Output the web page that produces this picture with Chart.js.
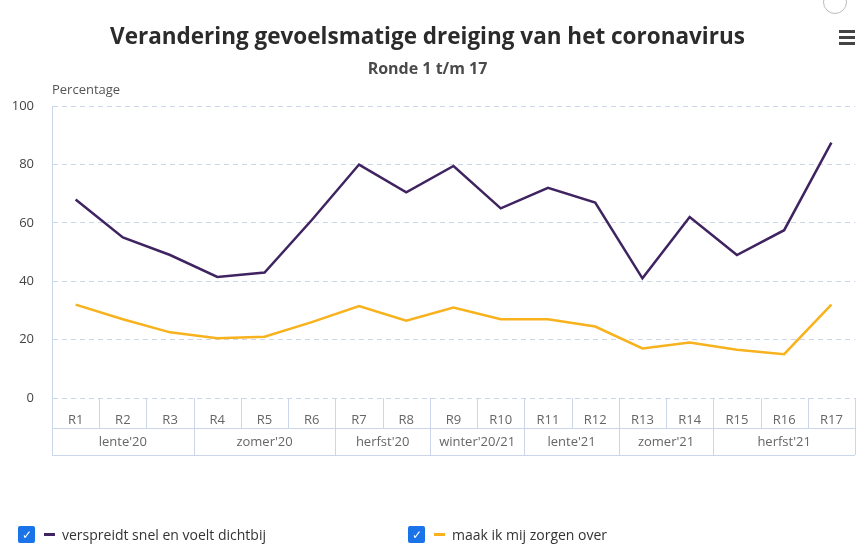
<!DOCTYPE html>
<html>
<head>
<meta charset="utf-8">
<title>Verandering gevoelsmatige dreiging van het coronavirus</title>
<script src="https://cdn.jsdelivr.net/npm/chart.js@4.4.1/dist/chart.umd.min.js"></script>
<style>
    body { margin: 0; background: #fff; font-family: "Open Sans", sans-serif; }
    #wrap { position: relative; width: 857px; height: 550px; overflow: hidden; }
    canvas { display: block; }
    .menu { position: absolute; left: 839px; top: 30px; width: 16px; }
    .menu span { display: block; height: 3px; background: #444; margin-bottom: 3px; }
    .knop { position: absolute; left: 823px; top: -10px; width: 22px; height: 22px; border: 1px solid #bbb; border-radius: 50%; }
    .legenda { position: absolute; top: 525px; font-size: 14px; color: #333; display: flex; align-items: center; }
    .legenda .vink { width: 17px; height: 17px; background: #1a73e8; border-radius: 2px; color: #fff; font-size: 12px; line-height: 17px; text-align: center; margin-right: 9px; }
    .legenda .streep { width: 11px; height: 3px; margin-right: 7px; }
</style>
</head>
<body>
<div id="wrap">
    <canvas id="grafiek" width="857" height="550"></canvas>
    <div class="knop"></div>
    <div class="menu"><span></span><span></span><span></span></div>
    <div class="legenda" style="left:18px"><span class="vink">&#10003;</span><span class="streep" style="background:#3f2461"></span>verspreidt snel en voelt dichtbij</div>
    <div class="legenda" style="left:408px"><span class="vink">&#10003;</span><span class="streep" style="background:#f7b21e"></span>maak ik mij zorgen over</div>
</div>
<script>
// rondes en seizoenen (gegroepeerde x-as)
const rondes = ['R1', 'R2', 'R3', 'R4', 'R5', 'R6', 'R7', 'R8', 'R9', 'R10', 'R11', 'R12', 'R13', 'R14', 'R15', 'R16', 'R17'];
const seizoenen = ["lente'20", "zomer'20", "herfst'20", "winter'20/21", "lente'21", "zomer'21", "herfst'21"];
const rondesPerSeizoen = [3, 3, 2, 2, 2, 2, 3];

// percentages per ronde
const dichtbij = [68, 55, 49, 41.5, 43, 61, 80, 70.5, 79.5, 65, 72, 67, 41, 62, 49, 57.5, 87.5];
const zorgen = [32, 27, 22.5, 20.5, 21, 26, 31.5, 26.5, 31, 27, 27, 24.5, 17, 19, 16.5, 15, 32];

const yTicks = [0, 20, 40, 60, 80, 100];

const lijnKleur = '#ccd6eb';
const tekstKleur = '#666';

// tekent de tabel onder de grafiek (rondes + seizoenen)
const tabelPlugin = {
    id: 'tabel',
    afterDraw(chart) {
        const ctx = chart.ctx;
        const x = chart.scales.x;
        const area = chart.chartArea;
        const rij1 = area.bottom + 30;
        const rij2 = area.bottom + 57;
        const breedte = (x.getPixelForValue(1) - x.getPixelForValue(0));
        const grens = i => x.getPixelForValue(0) - breedte / 2 + i * breedte;

        ctx.save();
        ctx.strokeStyle = lijnKleur;
        ctx.lineWidth = 1;
        ctx.beginPath();
        // verticale lijnen tussen rondes
        for (let i = 0; i <= rondes.length; i++) {
            const px = Math.round(grens(i)) + 0.5;
            ctx.moveTo(px, area.bottom);
            ctx.lineTo(px, rij1);
        }
        ctx.moveTo(area.left, rij1 + 0.5);
        ctx.lineTo(area.right, rij1 + 0.5);
        ctx.moveTo(area.left, rij2 + 0.5);
        ctx.lineTo(area.right, rij2 + 0.5);
        // seizoensgrenzen
        let n = 0;
        for (let s = 0; s <= seizoenen.length; s++) {
            const px = Math.round(grens(n)) + 0.5;
            ctx.moveTo(px, rij1);
            ctx.lineTo(px, rij2);
            if (s < seizoenen.length) n += rondesPerSeizoen[s];
        }
        ctx.stroke();

        // seizoen labels
        ctx.fillStyle = tekstKleur;
        ctx.font = '13px "Open Sans"';
        ctx.textAlign = 'center';
        ctx.textBaseline = 'middle';
        n = 0;
        seizoenen.forEach((s, i) => {
            const midden = (grens(n) + grens(n + rondesPerSeizoen[i])) / 2;
            ctx.fillText(s, midden, (rij1 + rij2) / 2 + 1);
            n += rondesPerSeizoen[i];
        });

        // as-titel
        ctx.fillStyle = '#555';
        ctx.textAlign = 'left';
        ctx.font = '13px "Open Sans"';
        ctx.fillText('Percentage', area.left, area.top - 16);
        ctx.restore();
    }
};

new Chart(document.getElementById('grafiek'), {
    type: 'line',
    data: {
        labels: rondes,
        datasets: [{
            label: 'verspreidt snel en voelt dichtbij',
            data: dichtbij,
            borderColor: '#3f2461',
            borderWidth: 2.5,
            pointRadius: 0,
            tension: 0
        }, {
            label: 'maak ik mij zorgen over',
            data: zorgen,
            borderColor: '#f7b21e',
            borderWidth: 2.5,
            pointRadius: 0,
            tension: 0
        }]
    },
    options: {
        responsive: false,
        animation: false,
        layout: { padding: { top: 0, right: 2, bottom: 95, left: 0 } },
        plugins: {
            legend: { display: false },
            tooltip: { enabled: false },
            title: {
                display: true,
                text: 'Verandering gevoelsmatige dreiging van het coronavirus',
                color: '#2b2b2b',
                font: { family: 'Open Sans', size: 22.5, weight: '700' },
                padding: { top: 24, bottom: 9 }
            },
            subtitle: {
                display: true,
                text: 'Ronde 1 t/m 17',
                color: '#4a4a4a',
                font: { family: 'Open Sans', size: 16, weight: '700' },
                padding: { top: 0, bottom: 27 }
            }
        },
        scales: {
            x: {
                offset: true,
                grid: { display: false },
                border: { display: false },
                ticks: {
                    color: tekstKleur,
                    font: { family: 'Open Sans', size: 13 },
                    padding: 6,
                    maxRotation: 0,
                    autoSkip: false
                },
                afterFit(scale) { scale.height = 57; }
            },
            y: {
                min: 0,
                max: 100,
                afterBuildTicks(scale) { scale.ticks = yTicks.map(v => ({ value: v })); },
                grid: { color: lijnKleur, drawTicks: false },
                border: { display: true, color: lijnKleur, dash: [5, 4] },
                ticks: {
                    color: '#444',
                    font: { family: 'Open Sans', size: 13 },
                    padding: 18
                },
                afterFit(scale) { scale.width = 52; }
            }
        }
    },
    plugins: [tabelPlugin]
});
</script>
</body>
</html>
